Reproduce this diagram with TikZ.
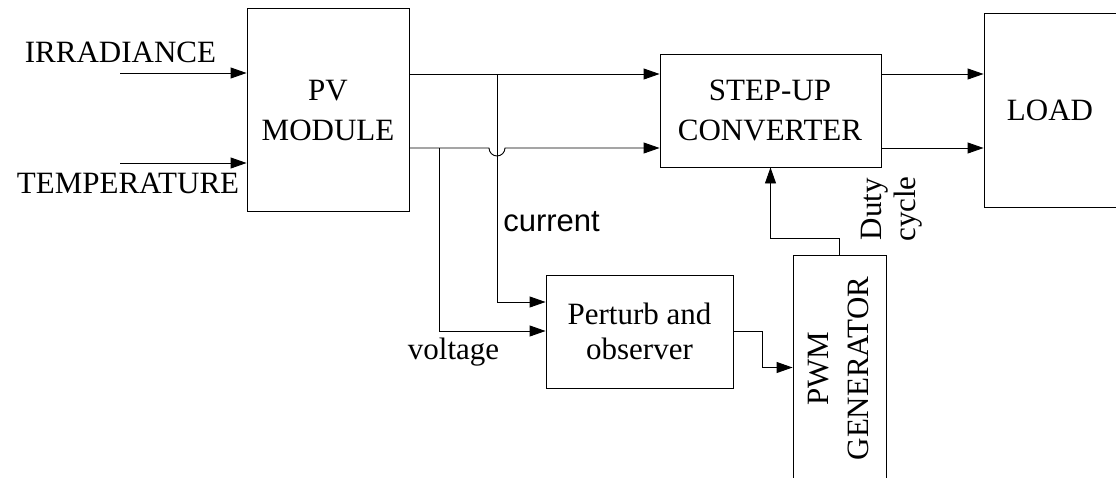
\documentclass[tikz,border=0pt]{standalone}
\usepackage{fontspec}
\setmainfont{Liberation Serif}
\newfontfamily\arialfont{Liberation Sans}
\usetikzlibrary{arrows.meta}
\begin{document}
\begin{tikzpicture}[x=1pt,y=-1pt,
  box/.style={draw,line width=0.9pt,inner sep=0pt},
  txt/.style={inner sep=0pt,font=\fontsize{31}{40}\selectfont,align=center},
  conn/.style={line width=0.9pt},
  arr/.style={line width=0.9pt,-{Triangle[length=16pt,width=11pt]}}]
\useasboundingbox (0,0) rectangle (1116,477);
\clip (0,0) rectangle (1116,477);
% blocks
\node[box,minimum width=162pt,minimum height=203pt] (pv) at (328,110.3) {};
\node[txt] (pvt) at (328,110) {PV\\MODULE};
\node[box,minimum width=221pt,minimum height=113pt] (conv) at (770.5,110.5) {};
\node[txt] (convt) at (770,110) {STEP-UP\\CONVERTER};
\node[box,minimum width=170pt,minimum height=194pt] (load) at (1069,110) {};
\node[txt] (loadt) at (1050,110) {LOAD};
\node[box,minimum width=187pt,minimum height=113pt] (po) at (639.5,331.5) {};
\node[txt,font=\fontsize{31}{35.5}\selectfont] (pot) at (639.5,331.5) {Perturb and\\observer};
\node[box,minimum width=93pt,minimum height=245pt] (pwm) at (839.5,377.5) {};
\node[txt,rotate=90] (pwmt) at (838,368.5) {PWM\\GENERATOR};
% labels
\node[txt,anchor=base] (irr) at (120.5,62) {IRRADIANCE};
\node[txt,anchor=base] (temp) at (128,193) {TEMPERATURE};
\node[txt,anchor=base] (volt) at (453.5,359) {voltage};
\node[txt,anchor=base,font=\arialfont\fontsize{31}{40}\selectfont] (curr) at (551.5,231.5) {current};
\node[txt,rotate=90,font=\fontsize{31}{34}\selectfont] (duty) at (892,209) {Duty\\cycle};
% helper coordinates
\coordinate (irrS) at (120,73);
\coordinate (tempS) at (120,163);
\coordinate (yt) at (0,74);
\coordinate (yb) at (0,148);
\coordinate (cj) at (497,74);
\coordinate (vj) at (439,148);
\coordinate (yc) at (0,302);
\coordinate (yv) at (0,331);
\coordinate (yp) at (0,367.5);
% connectors
\draw[arr] (irrS) -- (irrS -| pv.west);
\draw[arr] (tempS) -- (tempS -| pv.west);
\draw[arr] (pv.east |- yt) -- (conv.west |- yt);
\draw[arr] (pv.east |- yb) -- (489,148) arc[start angle=180,end angle=0,radius=8] -- (conv.west |- yb);
\draw[arr] (cj) |- (po.west |- yc);
\draw[arr] (vj) |- (po.west |- yv);
\draw[arr] (po.east) -- ++(29,0) |- (pwm.west |- yp);
\draw[arr] (pwm.north) -- ++(0,-16) -| (conv.south);
\draw[arr] (conv.east |- yt) -- (load.west |- yt);
\draw[arr] (conv.east |- yb) -- (load.west |- yb);
\end{tikzpicture}
\end{document}
